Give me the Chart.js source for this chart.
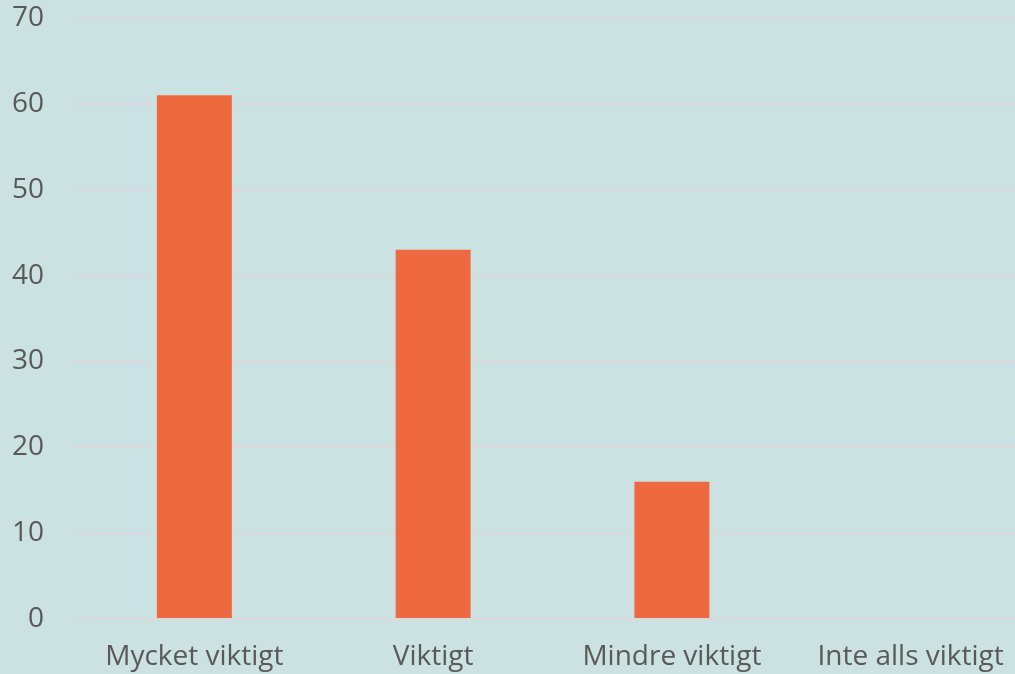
<!DOCTYPE html>
<html>
<head>
<meta charset="utf-8">
<script src="https://cdn.jsdelivr.net/npm/chart.js@4"></script>
<style>
  html, body { margin: 0; padding: 0; overflow: hidden; background: #cce1e1; }
  #wrap { width: 1030px; height: 674px; }
</style>
</head>
<body>
<div id="wrap"><canvas id="barras"></canvas></div>
<script>
// Kategorier och värden
const kategorier = ['Mycket viktigt', 'Viktigt', 'Mindre viktigt', 'Inte alls viktigt'];
const antal = [61, 43, 16, 0];
const yTicks = [0, 10, 20, 30, 40, 50, 60, 70];

const dataBar = {
  labels: kategorier,
  datasets: [{
    data: antal,
    backgroundColor: '#ed6a40',
    borderWidth: 0,
    barPercentage: 0.314,
    categoryPercentage: 1
  }]
};

const configBar = {
  type: 'bar',
  data: dataBar,
  options: {
    responsive: true,
    maintainAspectRatio: false,
    animation: false,
    layout: { padding: { top: 18, left: 0, right: 0, bottom: 0 } },
    plugins: { legend: { display: false }, tooltip: { enabled: false } },
    scales: {
      x: {
        grid: { display: false },
        border: { display: false },
        ticks: { color: '#595959', font: { family: 'Open Sans', size: 28 }, padding: 13, maxRotation: 0 },
        afterFit: (s) => { s.paddingLeft = 0; s.paddingRight = 0; s.height = 55; }
      },
      y: {
        min: 0,
        max: 70,
        afterBuildTicks: (axis) => { axis.ticks = yTicks.map(v => ({ value: v })); },
        grid: { color: '#d9d9d9', lineWidth: 2, drawTicks: false },
        border: { display: false },
        ticks: { color: '#595959', font: { family: 'Open Sans', size: 28 }, padding: 31 },
        afterFit: (s) => { s.paddingTop = 0; s.paddingBottom = 0; s.width = 75; }
      }
    }
  }
};

const ctxBar = document.getElementById('barras').getContext('2d');
new Chart(ctxBar, configBar);
</script>
</body>
</html>
